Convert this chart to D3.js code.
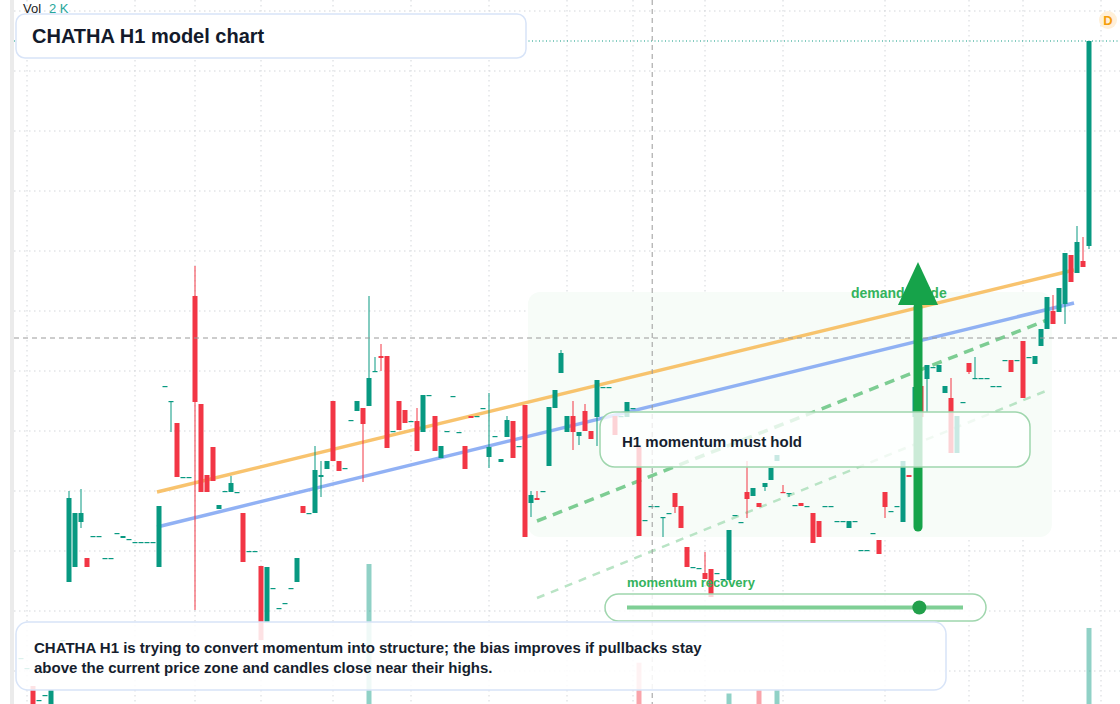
<!DOCTYPE html>
<html>
<head>
<meta charset="utf-8">
<script src="https://cdn.jsdelivr.net/npm/d3@7"></script>
<style>
  html, body { margin: 0; padding: 0; background: #fff; }
  svg { display: block; font-family: "Liberation Sans", Arial, sans-serif; }
</style>
</head>
<body>
<div id="chart"></div>
<script>
// candles, one per bar; null high/low means the wick ends at the body
const opens = [19.3,18.3,16.5,15.1,15.6,13.1,20.1,21.1,26.9,28.4,32.9,29.3,31.5,31.5,29.3,29.3,31.8,31.3,31.2,30.9,30.9,30.9,30.9,28.4,46.5,44.9,42.8,37.4,37.4,55.5,44.7,37.6,40.4,34.2,36.0,35.9,35.9,33.8,30.0,30.0,28.5,22.9,26.3,24.3,24.8,26.3,26.9,34.5,33.8,33.8,37.4,38.2,45.0,39.0,38.3,43.1,44.0,44.3,44.5,48.0,49.5,49.5,42.0,45.0,44.1,43.0,43.0,41.9,45.6,43.5,39.3,42.0,45.5,41.9,40.5,43.5,43.5,44.3,39.4,41.5,38.9,41.4,43.0,40.5,44.6,34.8,35.3,36.0,38.5,44.3,47.8,41.9,43.5,41.5,44.0,42.0,43.4,46.4,46.4,43.5,43.5,43.4,44.3,40.4,33.1,34.5,34.5,33.3,33.8,35.8,34.5,30.4,28.4,28.3,27.8,28.2,27.8,27.2,27.1,33.6,32.9,35.9,35.5,34.8,36.4,37.1,39.0,35.9,35.7,34.6,34.8,34.5,33.8,33.0,34.5,34.5,33.0,33.0,32.3,33.0,30.1,30.1,31.8,31.1,35.9,34.0,34.5,32.9,37.6,43.4,46.5,47.2,48.4,47.9,45.8,45.3,39.8,44.9,48.8,47.3,47.3,47.3,46.5,46.5,49.1,49.1,49.1,51.0,49.4,48.7,50.5,52.2,54.0,53.9,54.7,59.6,57.8,59.0,60.5];
const closes = [19.3,18.3,13.5,15.1,15.6,16.1,20.1,21.1,35.3,33.8,33.8,28.4,31.5,31.5,29.3,29.3,31.8,31.5,31.2,30.9,30.9,30.9,30.9,34.5,46.5,45.0,37.4,37.4,37.4,44.9,35.9,35.9,37.0,34.6,36.0,36.8,35.9,28.9,30.0,30.0,21.1,28.4,26.3,24.3,24.8,26.3,29.3,33.8,33.8,38.1,37.6,39.0,39.0,38.0,38.3,43.1,45.0,42.7,47.3,48.0,49.3,40.3,42.0,42.1,42.8,43.0,40.0,45.6,45.6,40.0,40.5,42.0,45.5,41.9,38.2,43.3,43.5,44.3,40.4,41.5,39.2,43.1,39.3,40.5,31.4,35.6,35.1,36.0,44.4,46.1,49.8,43.5,41.9,41.9,42.0,41.2,47.1,46.4,46.4,41.6,43.5,44.9,44.3,31.5,33.1,34.5,34.5,33.4,33.8,34.4,32.3,28.4,28.4,28.3,27.2,25.4,27.8,27.2,32.1,33.6,32.9,35.2,36.3,34.4,36.8,38.3,39.6,35.8,35.8,34.6,34.5,34.5,30.8,31.4,34.5,34.5,33.0,33.0,33.0,33.0,30.1,30.1,31.8,29.7,34.4,34.0,34.5,39.0,37.4,46.4,43.4,48.6,48.4,48.6,46.5,39.8,43.5,44.9,47.9,47.3,47.3,47.3,46.5,46.5,49.1,47.9,49.1,45.3,49.4,49.5,52.2,55.4,52.7,56.3,59.8,56.9,60.9,58.4,81.0];
const highs = [null,null,null,null,null,null,null,null,36.0,null,36.2,null,null,null,null,null,null,null,null,null,null,null,null,null,null,45.0,null,null,null,58.5,null,null,null,null,null,37.5,null,null,null,null,null,null,null,null,null,null,null,null,null,40.5,39.0,null,null,null,null,null,null,null,55.5,49.4,50.7,null,null,null,null,null,44.3,null,null,null,null,null,null,null,null,null,null,null,45.8,null,null,43.5,null,null,null,36.0,36.0,null,null,null,50.1,null,45.0,null,44.7,null,null,null,null,null,null,null,null,null,null,null,null,null,null,null,null,null,null,null,29.9,null,null,null,null,null,null,39.0,null,null,null,null,null,36.6,null,null,null,null,null,null,null,null,null,null,null,null,null,null,null,null,null,null,null,null,null,null,null,null,null,null,null,47.3,null,null,null,49.4,null,null,null,null,null,null,null,null,null,null,null,null,55.6,null,null,null,62.5,61.4,60.2,84.0];
const lows = [null,null,null,null,null,null,null,null,null,null,32.3,null,null,null,null,null,null,null,null,null,null,null,null,null,null,41.9,null,null,null,24.1,null,null,null,null,null,null,null,null,null,null,null,null,null,null,null,null,null,null,null,null,35.4,null,null,null,null,null,null,36.9,null,null,48.0,null,null,null,null,null,null,null,null,null,null,null,null,null,null,null,null,null,38.3,null,null,null,null,null,null,33.4,null,null,null,null,null,null,40.1,40.6,null,null,40.5,null,null,null,null,null,null,null,null,null,null,31.4,null,33.8,null,null,null,null,null,null,null,null,null,null,null,33.3,null,null,36.0,null,null,null,35.4,null,null,null,null,null,null,null,null,null,null,null,null,null,null,null,33.3,null,null,null,null,null,null,43.9,null,null,null,null,null,null,47.7,null,null,null,null,null,null,null,null,null,null,null,null,null,null,null,52.7,null,null,null,null,null];
// volume per bar (only a few bars are large enough to show)
const volumes = [0,0,0,0,0,0,0,0,0,0,0,0,0,0,0,0,0,0,0,0,0,0,0,0,0,0,0,0,0,0,0,0,0,0,0,0,0,0,0,0,0,0,0,0,0,0,0,0,0,0,0,0,0,0,0,0,0,0,2000,0,0,0,0,0,0,0,0,0,0,0,0,0,0,0,0,0,0,0,0,0,0,0,0,0,0,0,0,0,0,0,0,0,0,0,0,0,0,0,0,0,0,0,0,590,0,0,0,0,0,0,0,0,0,0,0,0,0,0,150,0,0,0,0,200,0,0,200,0,0,0,0,0,0,0,0,0,0,0,0,0,0,0,0,0,0,0,0,0,0,0,0,0,0,0,0,0,0,0,0,0,0,0,0,0,0,0,0,0,0,0,0,0,0,0,0,0,0,0,1086];
const timeTicks = [1,19,29,40,52,65,78,91,102,114,127,144,158,167,180];
const priceTicks = [18,24,30,36,42,48,54,60,66,72,78,84];
const orangeLine = [[22.67,35.9],[175.5,58.1]];
const blueLine = [[22.67,32.4],[175.5,54.8]];
const supportLine = [[86,33.0],[171,53.1]];
const lowerLine = [[86,25.3],[171.2,46.1]];
const zone = {i0:84.5, i1:171.8, p0:31.4, p1:55.9};
const arrow = {i:149.5, from:32.4, to:58.9, headBase:54.6};
const crosshair = {i:105.2, p:51.3};
const lastPrice = 81.0;
const sliderValue = 0.87;

const W = 1120, H = 704;
const up = "#089981", down = "#f23645";

const svg = d3.select("#chart").append("svg").attr("width", W).attr("height", H);
const x = d3.scaleLinear().domain([-3.5, 183.5]).range([0, 1122]);
const y = d3.scaleLinear().domain([14.7, 85.1]).range([704, 0]);
const vol = d3.scaleLinear().domain([0, 2000]).range([0, 140]);

svg.append("rect").attr("x", 10).attr("y", 0).attr("width", 4).attr("height", H).attr("fill", "#ebebeb");

// grid
const grid = svg.append("g").attr("stroke", "#d3d6da").attr("stroke-dasharray", "1.5,3.5");
grid.selectAll(".h").data(priceTicks).join("line")
  .attr("x1", 14).attr("x2", W).attr("y1", d => y(d)).attr("y2", d => y(d));
grid.selectAll(".v").data(timeTicks).join("line")
  .attr("x1", d => x(d)).attr("x2", d => x(d)).attr("y1", 0).attr("y2", H);

// demand zone
svg.append("rect")
  .attr("x", x(zone.i0)).attr("y", y(zone.p1))
  .attr("width", x(zone.i1) - x(zone.i0)).attr("height", y(zone.p0) - y(zone.p1))
  .attr("rx", 12).attr("fill", "#f7fcf8");

// last price line
svg.append("line").attr("x1", 14).attr("x2", W).attr("y1", y(lastPrice)).attr("y2", y(lastPrice))
  .attr("stroke", up).attr("stroke-dasharray", "1,2.5");

const line = d3.line().x(d => x(d[0])).y(d => y(d[1]));
svg.append("path").attr("d", line(orangeLine)).attr("stroke", "#f7b955").attr("stroke-width", 3.5).attr("opacity", 0.85).attr("fill", "none");
svg.append("path").attr("d", line(blueLine)).attr("stroke", "#7ea3f2").attr("stroke-width", 3.5).attr("opacity", 0.85).attr("fill", "none");
svg.append("path").attr("d", line(supportLine)).attr("stroke", "#7dcd93").attr("stroke-width", 3.5).attr("stroke-dasharray", "10,7").attr("fill", "none");
svg.append("path").attr("d", line(lowerLine)).attr("stroke", "#b9e4c5").attr("stroke-width", 2.5).attr("stroke-dasharray", "8,7").attr("fill", "none");

const bars = opens.map((o, i) => ({
  i, o, c: closes[i],
  h: highs[i] ?? Math.max(o, closes[i]),
  l: lows[i] ?? Math.min(o, closes[i]),
  v: volumes[i]
}));

// volume
svg.append("g").selectAll("rect").data(bars.filter(d => d.v > 0)).join("rect")
  .attr("x", d => x(d.i) - 2.5).attr("width", 5)
  .attr("y", d => H - vol(d.v)).attr("height", d => vol(d.v))
  .attr("fill", d => d.c >= d.o ? up : down).attr("opacity", 0.45);

// candles
const cg = svg.append("g");
cg.selectAll("line").data(bars).join("line")
  .attr("x1", d => x(d.i)).attr("x2", d => x(d.i))
  .attr("y1", d => y(d.h)).attr("y2", d => y(d.l))
  .attr("stroke", d => d.c >= d.o ? up : down).attr("stroke-width", 1);
cg.selectAll("rect").data(bars).join("rect")
  .attr("x", d => x(d.i) - 2.5).attr("width", 5)
  .attr("y", d => y(Math.max(d.o, d.c)))
  .attr("height", d => Math.max(1.2, Math.abs(y(d.o) - y(d.c))))
  .attr("fill", d => d.c >= d.o ? up : down);

// crosshair
svg.append("line").attr("x1", x(crosshair.i)).attr("x2", x(crosshair.i)).attr("y1", 0).attr("y2", H)
  .attr("stroke", "#9a9a9a").attr("stroke-dasharray", "5,4");
svg.append("line").attr("x1", 14).attr("x2", W).attr("y1", y(crosshair.p)).attr("y2", y(crosshair.p))
  .attr("stroke", "#9a9a9a").attr("stroke-dasharray", "5,4");

// demand stride label + arrow
const ax = x(arrow.i);
svg.append("text").attr("x", 851).attr("y", 298).attr("font-size", 14).attr("font-weight", "bold")
  .attr("fill", "#34b35d").text("demand stride");
svg.append("line").attr("x1", ax).attr("x2", ax).attr("y1", y(arrow.from)).attr("y2", y(arrow.headBase) + 2)
  .attr("stroke", "#16a34a").attr("stroke-width", 9).attr("stroke-linecap", "round");
svg.append("path")
  .attr("d", `M${ax},${y(arrow.to)} L${ax + 20},${y(arrow.headBase)} L${ax - 20},${y(arrow.headBase)} Z`)
  .attr("fill", "#16a34a");

// boxes
svg.append("rect").attr("x", 600).attr("y", 412).attr("width", 430).attr("height", 55).attr("rx", 15)
  .attr("fill", "#fff").attr("fill-opacity", 0.78).attr("stroke", "#9fd6ad").attr("stroke-width", 1.5);
svg.append("text").attr("x", 622).attr("y", 447).attr("font-size", 15).attr("font-weight", "bold")
  .attr("fill", "#161e2e").text("H1 momentum must hold");

svg.append("text").attr("x", 627).attr("y", 587).attr("font-size", 13).attr("font-weight", "bold")
  .attr("fill", "#34b35d").text("momentum recovery");
svg.append("rect").attr("x", 605).attr("y", 594).attr("width", 381).attr("height", 27).attr("rx", 13.5)
  .attr("fill", "#fff").attr("fill-opacity", 0.8).attr("stroke", "#9fd6ad").attr("stroke-width", 1.5);
const sx = d3.scaleLinear().domain([0, 1]).range([627, 963]);
svg.append("line").attr("x1", sx(0)).attr("x2", sx(1)).attr("y1", 607.5).attr("y2", 607.5)
  .attr("stroke", "#7fcf95").attr("stroke-width", 4);
svg.append("circle").attr("cx", sx(sliderValue)).attr("cy", 607.5).attr("r", 7).attr("fill", "#22a04b");

svg.append("rect").attr("x", 16).attr("y", 622).attr("width", 930).attr("height", 68).attr("rx", 12)
  .attr("fill", "#fff").attr("fill-opacity", 0.86).attr("stroke", "#d8e4f8").attr("stroke-width", 1.5);
svg.append("text").attr("x", 34).attr("y", 653).attr("font-size", 15).attr("font-weight", "bold")
  .attr("fill", "#161e2e").text("CHATHA H1 is trying to convert momentum into structure; the bias improves if pullbacks stay");
svg.append("text").attr("x", 34).attr("y", 673).attr("font-size", 15).attr("font-weight", "bold")
  .attr("fill", "#161e2e").text("above the current price zone and candles close near their highs.");

svg.append("rect").attr("x", 16).attr("y", 14).attr("width", 510).attr("height", 44).attr("rx", 9)
  .attr("fill", "#fff").attr("stroke", "#d8e4f8").attr("stroke-width", 1.5);
svg.append("text").attr("x", 32).attr("y", 43).attr("font-size", 20).attr("font-weight", "bold")
  .attr("fill", "#131a2b").text("CHATHA H1 model chart");

svg.append("text").attr("x", 23).attr("y", 13).attr("font-size", 13).attr("fill", "#222").text("Vol");
svg.append("text").attr("x", 49).attr("y", 13).attr("font-size", 13).attr("fill", "#26a69a").text("2 K");

svg.append("circle").attr("cx", 1108).attr("cy", 20).attr("r", 9).attr("fill", "#fff0d9");
svg.append("text").attr("x", 1108).attr("y", 25).attr("text-anchor", "middle").attr("font-size", 13)
  .attr("font-weight", "bold").attr("fill", "#f59e0b").text("D");
</script>
</body>
</html>
